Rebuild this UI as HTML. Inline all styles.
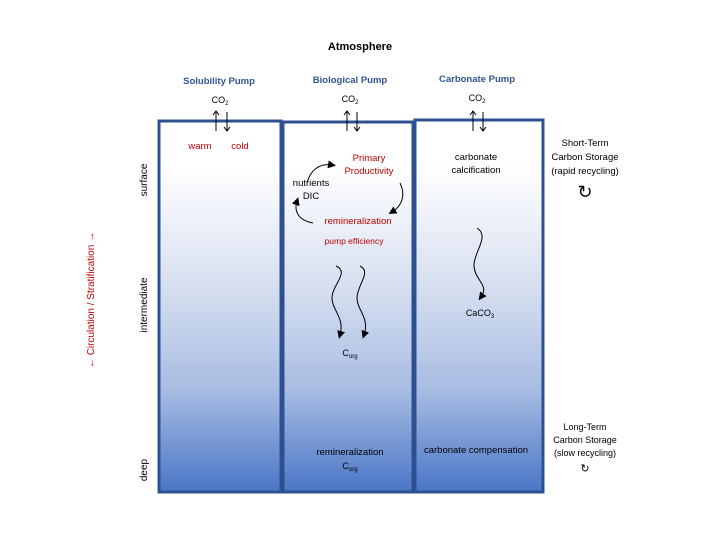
<!DOCTYPE html>
<html><head><style>
html,body{margin:0;padding:0;background:#fff;}
svg{display:block;font-family:"Liberation Sans",sans-serif;}
</style></head><body>
<svg width="720" height="540" viewBox="0 0 720 540" xmlns="http://www.w3.org/2000/svg">
<defs>
<linearGradient id="g" x1="0" y1="0" x2="0" y2="1">
<stop offset="0" stop-color="#ffffff"/>
<stop offset="0.12" stop-color="#ffffff"/>
<stop offset="0.45" stop-color="#d6dff0"/>
<stop offset="0.72" stop-color="#a9bde3"/>
<stop offset="1" stop-color="#4a76c6"/>
</linearGradient>
<marker id="ah" markerWidth="8" markerHeight="8" refX="4" refY="4" orient="auto" markerUnits="userSpaceOnUse">
<path d="M0,0 L8,4 L0,8 z" fill="#000"/>
</marker>
</defs>
<text x="360" y="50" font-size="11" font-weight="bold" text-anchor="middle">Atmosphere</text>
<g font-size="9.5" font-weight="bold" fill="#2f5496" text-anchor="middle">
<text x="219" y="84">Solubility Pump</text>
<text x="350" y="83">Biological Pump</text>
<text x="477" y="82">Carbonate Pump</text>
</g>
<g font-size="9" text-anchor="middle">
<text x="220" y="103">CO<tspan font-size="6" dy="2">2</tspan></text>
<text x="350" y="102">CO<tspan font-size="6" dy="2">2</tspan></text>
<text x="477" y="101">CO<tspan font-size="6" dy="2">2</tspan></text>
</g>
<rect x="159" y="121" width="122" height="371" fill="url(#g)" stroke="#2f5090" stroke-width="3"/>
<rect x="283" y="122" width="130" height="370" fill="url(#g)" stroke="#2f5090" stroke-width="3"/>
<rect x="415" y="120" width="128" height="372" fill="url(#g)" stroke="#2f5090" stroke-width="3"/>
<g stroke="#000" stroke-width="1" fill="none">
<path d="M216,131 V112 M213,115 L216,111 L219,115"/>
<path d="M227,112 V130 M224,127 L227,131 L230,127"/>
<path d="M347,131 V112 M344,115 L347,111 L350,115"/>
<path d="M357,112 V130 M354,127 L357,131 L360,127"/>
<path d="M473,131 V112 M470,115 L473,111 L476,115"/>
<path d="M483,112 V130 M480,127 L483,131 L486,127"/>
</g>
<g font-size="9.5" fill="#c00000" text-anchor="middle">
<text x="200" y="149">warm</text>
<text x="240" y="149">cold</text>
<text x="369" y="161">Primary</text>
<text x="369" y="174">Productivity</text>
<text x="358" y="224">remineralization</text>
<text x="354" y="244" font-size="8.5">pump efficiency</text>
</g>
<g font-size="9.5" text-anchor="middle">
<text x="311" y="186">nutrients</text>
<text x="311" y="199">DIC</text>
<text x="476" y="160">carbonate</text>
<text x="476" y="173">calcification</text>
<text x="350" y="356" font-size="9">C<tspan font-size="6" dy="2">org</tspan></text>
<text x="480" y="316" font-size="9">CaCO<tspan font-size="6" dy="2">3</tspan></text>
<text x="350" y="455">remineralization</text>
<text x="350" y="469" font-size="9">C<tspan font-size="6" dy="2">org</tspan></text>
<text x="476" y="453">carbonate compensation</text>
<text x="585" y="146">Short-Term</text>
<text x="585" y="160">Carbon Storage</text>
<text x="585" y="174">(rapid recycling)</text>
<text x="585" y="198" font-size="18">↻</text>
<text x="585" y="430" font-size="9">Long-Term</text>
<text x="585" y="443" font-size="9">Carbon Storage</text>
<text x="585" y="456" font-size="9">(slow recycling)</text>
<text x="585" y="472" font-size="11">↻</text>
</g>
<g stroke="#000" stroke-width="1" fill="none">
<path d="M307,183 C310,170 320,163 332,165" marker-end="url(#ah)"/>
<path d="M400,183 C406,195 402,206 392,212" marker-end="url(#ah)"/>
<path d="M313,223 C297,220 294,210 297,201" marker-end="url(#ah)"/>
<path d="M336,266 C350,272 332,285 332,298 C332,310 345,318 340,335" marker-end="url(#ah)"/>
<path d="M360,266 C372,272 357,285 357,298 C357,310 370,318 364,335" marker-end="url(#ah)"/>
<path d="M477,228 C490,236 474,252 474,265 C474,280 490,285 481,297" marker-end="url(#ah)"/>
</g>
<g font-size="10" text-anchor="middle">
<text transform="translate(147,180) rotate(-90)">surface</text>
<text transform="translate(147,305) rotate(-90)">intermediate</text>
<text transform="translate(147,470) rotate(-90)">deep</text>
<text transform="translate(94,300) rotate(-90)" fill="#c00000" font-size="10">← Circulation / Stratification →</text>
</g>
</svg>
</body></html>
